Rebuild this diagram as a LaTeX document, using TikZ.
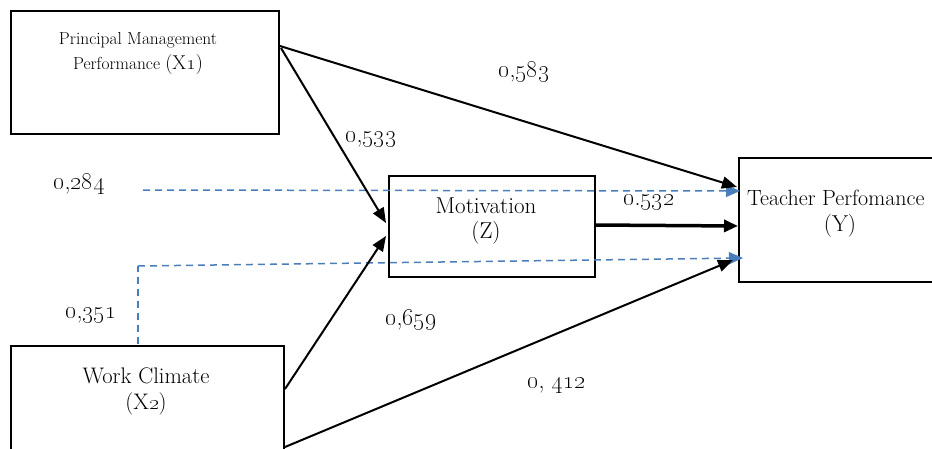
\documentclass[tikz,border=0pt]{standalone}
\usetikzlibrary{arrows.meta}
\newcommand\osn[1]{\oldstylenums{#1}}
\definecolor{dashblue}{HTML}{4A7EBB}
\begin{document}
\begin{tikzpicture}[x=1pt,y=-1pt,
  box/.style={draw=black,line width=1.5pt},
  arr/.style={line width=2pt,-{Triangle[length=15pt,width=12pt]}},
  thickarr/.style={line width=3.5pt,-{Triangle[length=14pt,width=12pt]}},
  darr/.style={dashblue,line width=1.5pt,dash pattern=on 7pt off 5pt,-{Triangle[length=14pt,width=12pt,fill=dashblue]}},
  dline/.style={dashblue,line width=1.5pt,dash pattern=on 7pt off 5pt},
  lbl/.style={anchor=base west,inner sep=0pt,font=\fontsize{24}{26}\selectfont},
  txt/.style={anchor=base,inner sep=0pt,font=\fontsize{23}{26}\selectfont}]
\useasboundingbox (0,0) rectangle (932,448);
\clip (0,0) rectangle (932,448);
% boxes
\draw[box] (11,11) rectangle (279,134);
\draw[box] (389,176) rectangle (595,277);
\draw[box] (739,158) rectangle (950,282);
\draw[box] (11,346) rectangle (284,460);
% box texts
\node[txt,font=\fontsize{17.4}{20}\selectfont] (x1a) at (138,44) {Principal Management};
\node[txt,font=\fontsize{17.4}{20}\selectfont] (x1b) at (138,69) {Performance \fontsize{20}{22}\selectfont(X\osn{1})};
\node[txt] (za) at (486,213) {Motivation};
\node[txt] (zb) at (486,238) {(Z)};
\node[anchor=base west,inner sep=0pt,font=\fontsize{22}{26}\selectfont] (ya) at (747,205) {Teacher Perfomance};
\node[txt] (yb) at (840,231) {(Y)};
\node[txt,font=\fontsize{22.5}{26}\selectfont] (x2a) at (146,383) {Work Climate};
\node[txt,font=\fontsize{22.5}{26}\selectfont] (x2b) at (146,409) {(X\osn{2})};
% anchor points
\coordinate (x1r1) at (280,46);
\coordinate (x1r2) at (281,48);
\coordinate (zl1) at (386,223);
\coordinate (zl2) at (386,236);
\coordinate (zr) at (595,225);
\coordinate (x2r) at (285,389);
\coordinate (x2c) at (285,447);
\coordinate (y1) at (737,187);
\coordinate (y2) at (738,226);
\coordinate (y3) at (733,260);
\coordinate (d1s) at (143,190);
\coordinate (d1e) at (740,191);
\coordinate (d2s) at (138,344);
\coordinate (d2m) at (138,266);
\coordinate (d2e) at (743,258);
% dashed connectors
\draw[darr] (d1s) -- (d1e);
\draw[dline] (d2s) -- (d2m);
\draw[darr] (d2m) -- (d2e);
% solid connectors
\draw[arr] (x1r1) -- (y1);
\draw[arr] (x1r2) -- (zl1);
\draw[arr] (x2r) -- (zl2);
\draw[arr] (x2c) -- (y3);
\draw[thickarr] (zr) -- (y2);
% labels
\node[lbl] (l1) at (498,77) {\osn{0},\osn{583}};
\node[lbl] (l2) at (345,142) {\osn{0},\osn{533}};
\node[lbl] (l3) at (53,189) {\osn{0},\osn{284}};
\node[lbl] (l4) at (623,205) {\osn{0}.\osn{532}};
\node[lbl] (l5) at (65,318) {\osn{0},\osn{351}};
\node[lbl] (l6) at (385,325) {\osn{0},\osn{659}};
\node[lbl] (l7) at (527,388) {\osn{0}, \osn{412}};
\end{tikzpicture}
\end{document}
